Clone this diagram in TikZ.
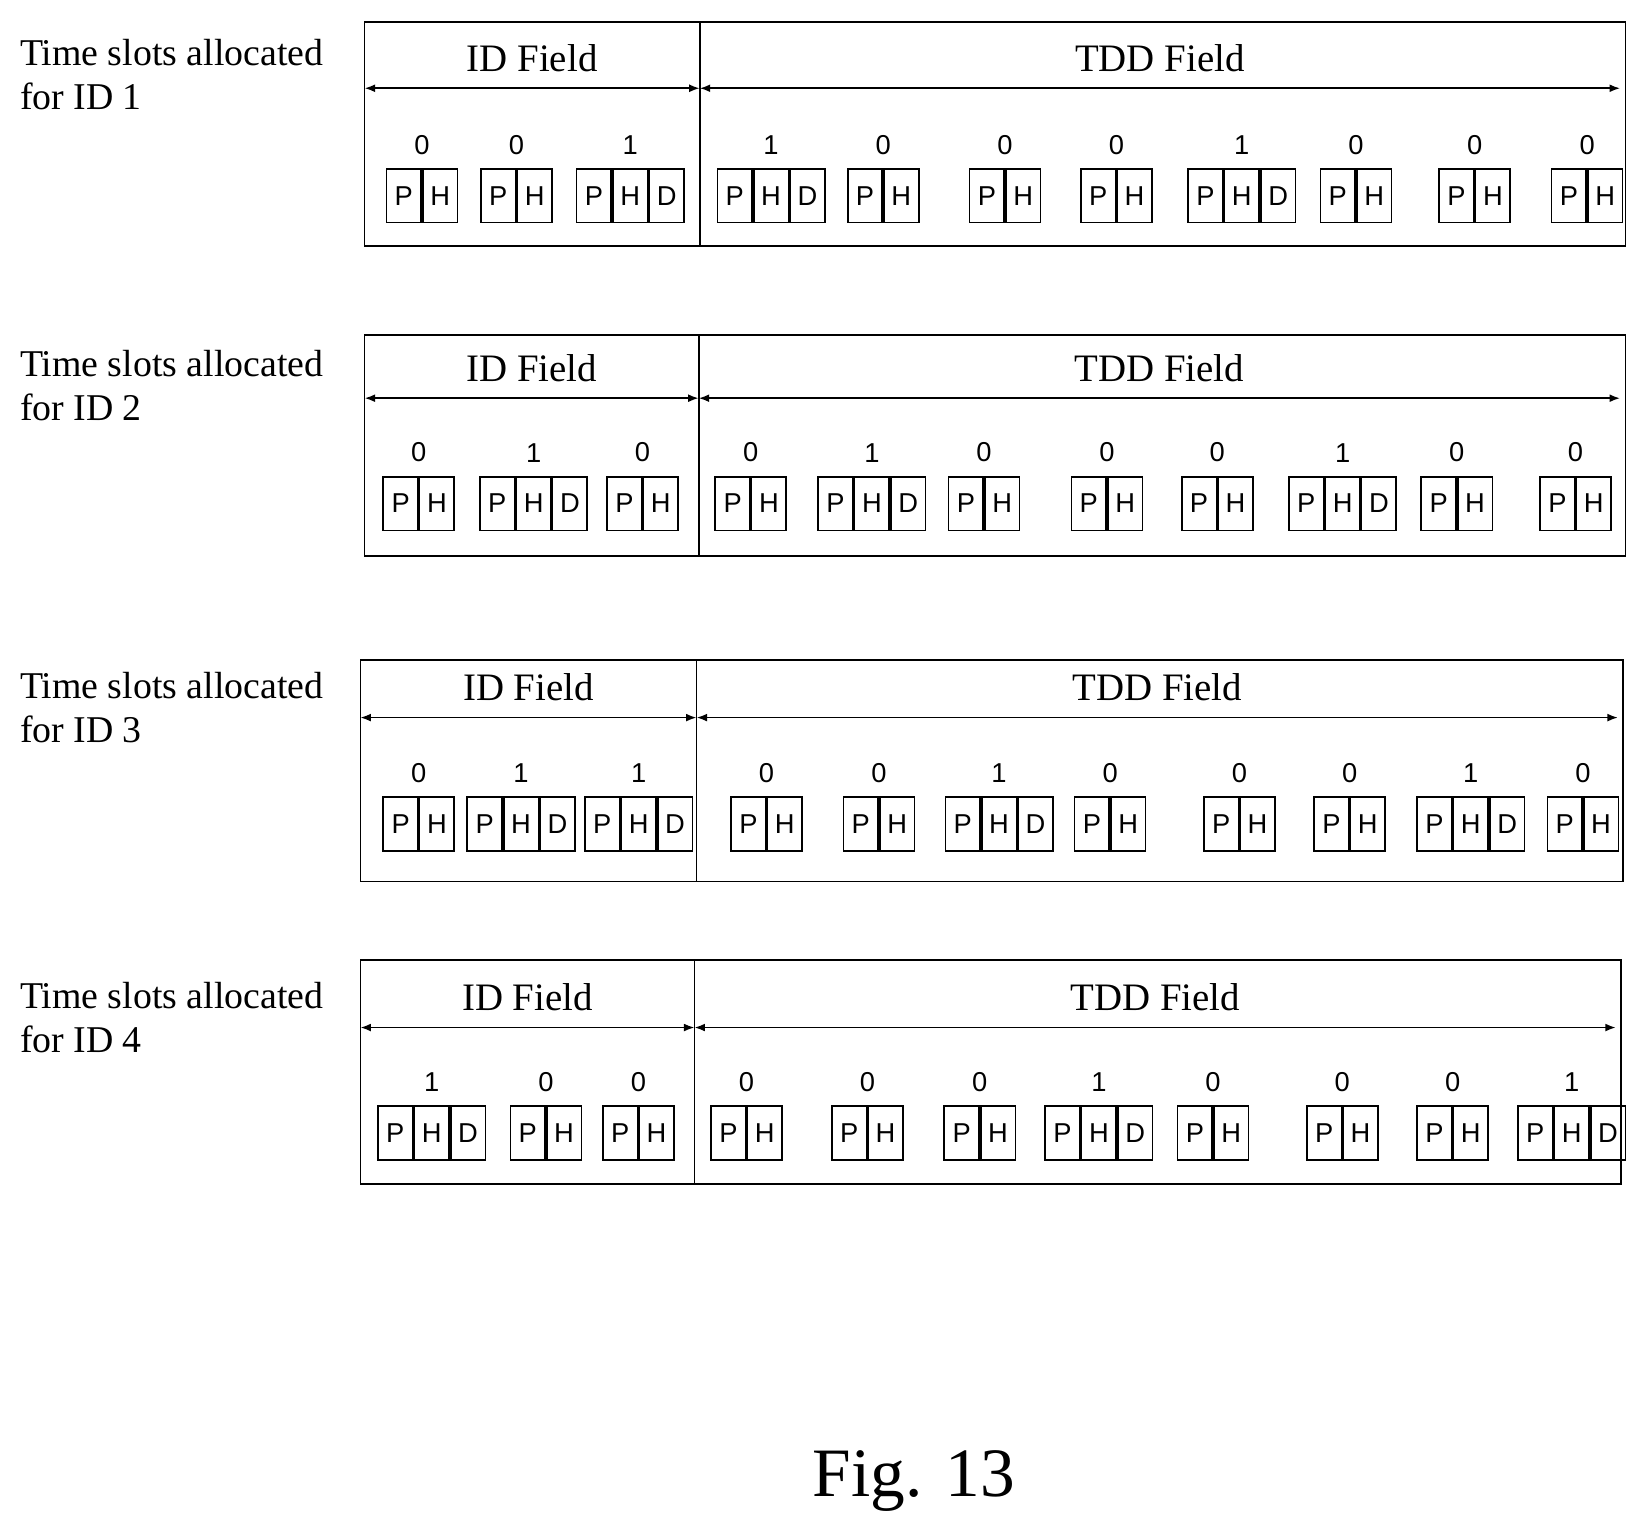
\documentclass[tikz,border=0pt]{standalone}
\usepackage{fontspec}
\setmainfont{Liberation Serif}
\newfontfamily\cellfont{Liberation Sans}
\usetikzlibrary{arrows.meta,positioning,calc}
\tikzset{
  cell/.style={draw, thick, minimum width=16.5pt, minimum height=25.5pt, inner sep=0pt, font=\cellfont\fontsize{13}{13}\selectfont},
  bit/.style={font=\cellfont\fontsize{13}{13}\selectfont},
  field/.style={font=\fontsize{18.5}{18.5}\selectfont},
  rowlabel/.style={anchor=north west, align=left, font=\fontsize{18}{21}\selectfont},
  span/.style={draw, thick, {Latex[length=5pt]}-{Latex[length=5pt]}}
}
% one slot: x, top y, bit, number of cells
\newcommand{\slotbox}[5]{%
  \node [cell, anchor=north west] (#5P) at (#1,#2) {P};
  \node [cell, right=0pt of #5P] (#5H) {H};
  \ifnum#4=3 \node [cell, right=0pt of #5H] (#5D) {D};
    \node [bit, above=3pt of #5H] (#5b) {#3};
  \else
    \node [bit, above=3pt of #5P.north east] (#5b) {#3};
  \fi}
\begin{document}
\begin{tikzpicture}[x=0.5pt, y=-0.5pt]
  \useasboundingbox (0,0) rectangle (1560,1453);
  % rows: index / top / bottom / left / divider / right / arrow / box top / label y
  \foreach \r/\t/\b/\l/\m/\e/\a/\bt/\ly/\slots in {
    1/21/234/347/666/1547/84/160/30/{367/0/2,457/0/2,548/1/3,682/1/3,806/0/2,922/0/2,1028/0/2,1130/1/3,1256/0/2,1369/0/2,1476/0/2},
    2/319/529/347/665/1547/379/453/326/{364/0/2,456/1/3,577/0/2,680/0/2,778/1/3,902/0/2,1019/0/2,1124/0/2,1226/1/3,1352/0/2,1465/0/2},
    3/628/839/343/663/1545/683/758/633/{364/0/2,444/1/3,556/1/3,695/0/2,802/0/2,899/1/3,1022/0/2,1145/0/2,1250/0/2,1348/1/3,1472/0/2},
    4/914/1127/343/661/1543/978/1052/928/{359/1/3,485/0/2,573/0/2,676/0/2,791/0/2,898/0/2,994/1/3,1120/0/2,1243/0/2,1348/0/2,1444/1/3}}{
    \node [rowlabel] (lab\r) at (12,\ly) {Time slots allocated\\for ID \r};
    \draw [thick] (\l,\t) rectangle (\e,\b);
    \draw [thick] (\m,\t) -- (\m,\b);
    \coordinate (s\r) at (\l,\a);
    \coordinate (d\r) at (\m,\a);
    \coordinate (e\r) at (\e-5,\a);
    \path [span] (s\r) -- (d\r);
    \path [span] (d\r) -- (e\r);
    \node [field] (id\r) at ($(s\r)!0.5!(d\r)+(0,-29)$) {ID Field};
    \node [field] (tdd\r) at ($(d\r)!0.5!(e\r)+(0,-29)$) {TDD Field};
    \foreach \x/\v/\k [count=\n] in \slots {
      \slotbox{\x}{\bt}{\v}{\k}{r\r n\n}
    }
  }
  \node [font=\fontsize{33}{33}\selectfont] (fig) at (870,1410) {Fig. 13};
\end{tikzpicture}
\end{document}
